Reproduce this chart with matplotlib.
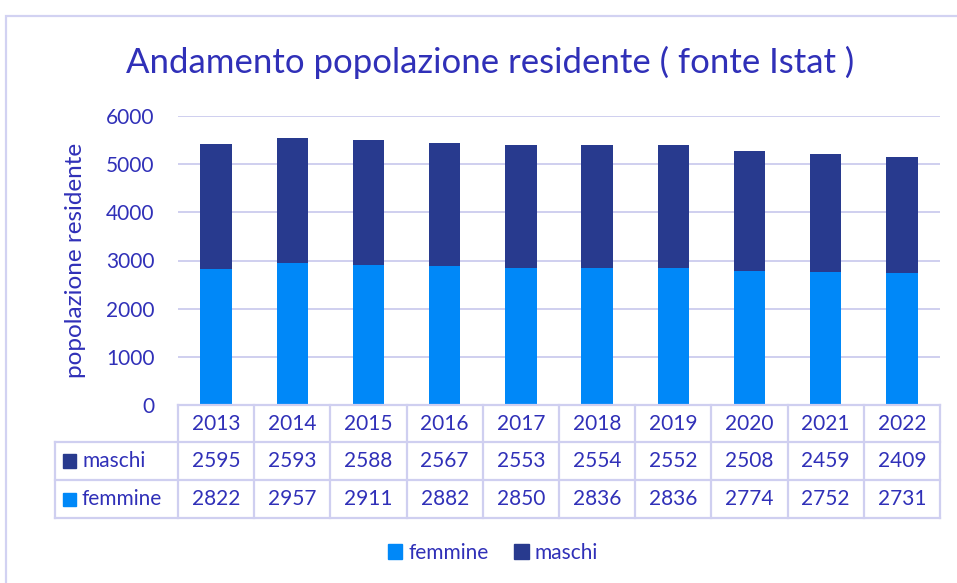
import matplotlib
matplotlib.use("Agg")
import matplotlib.pyplot as plt
from matplotlib.patches import Rectangle, Patch
from matplotlib.lines import Line2D

years = ["2013", "2014", "2015", "2016", "2017", "2018", "2019", "2020", "2021", "2022"]
maschi = [2595, 2593, 2588, 2567, 2553, 2554, 2552, 2508, 2459, 2409]
femmine = [2822, 2957, 2911, 2882, 2850, 2836, 2836, 2774, 2752, 2731]

TXT = "#3030b8"
C_F = "#0088f8"
C_M = "#283a8e"
GRID = "#ccccee"
FONT = "Lato"

W, H = 957, 583
fig = plt.figure(figsize=(W / 100, H / 100), dpi=100)
plt.rcParams["font.family"] = [FONT, "DejaVu Sans"]

def fx(px):
    return px / W

def fy(py):
    return 1 - py / H

# outer frame
fig.patches.append(Rectangle((fx(6), fy(590)), fx(1000), fy(16) - fy(590),
                             transform=fig.transFigure, fill=False,
                             edgecolor="#d2d2f2", lw=1.6))

L, R, T, B = 178, 940, 116, 405
ax = fig.add_axes([fx(L), fy(B), fx(R - L), fy(T) - fy(B)])
x = list(range(len(years)))
ax.bar(x, femmine, width=0.41, color=C_F, zorder=3, label="femmine")
ax.bar(x, maschi, width=0.41, bottom=femmine, color=C_M, zorder=3, label="maschi")
ax.set_xlim(-0.5, len(years) - 0.5)
ax.set_ylim(0, 6000)
ax.set_yticks(range(0, 6001, 1000))
ax.set_xticks([])
ax.grid(axis="y", color=GRID, lw=1.3, zorder=0)
for s in ax.spines.values():
    s.set_visible(False)
ax.tick_params(axis="y", length=0, labelsize=15, labelcolor=TXT, pad=17)
ax.set_ylabel("popolazione residente", fontsize=17.5, color=TXT, labelpad=14)

fig.text(fx(490), fy(62), "Andamento popolazione residente ( fonte Istat )",
         ha="center", va="center", fontsize=25, color=TXT)

# data table
colw = (R - L) / len(years)
lc = "#cfcff0"
tlw = 1.6
def hline(y, x0, x1):
    fig.lines.append(Line2D([fx(x0), fx(x1)], [fy(y), fy(y)], transform=fig.transFigure, color=lc, lw=tlw))
def vline(xp, y0, y1):
    fig.lines.append(Line2D([fx(xp), fx(xp)], [fy(y0), fy(y1)], transform=fig.transFigure, color=lc, lw=tlw))

hline(405, L, R)
for y in [442, 480, 518]:
    hline(y, 55, R)
for i in range(len(years) + 1):
    vline(L + i * colw, 405, 518)
vline(55, 442, 518)

for i, yr in enumerate(years):
    cx = L + (i + 0.5) * colw
    fig.text(fx(cx), fy(424), yr, ha="center", va="center", fontsize=15, color=TXT)
    fig.text(fx(cx), fy(461), str(maschi[i]), ha="center", va="center", fontsize=15, color=TXT)
    fig.text(fx(cx), fy(499), str(femmine[i]), ha="center", va="center", fontsize=15, color=TXT)

for yc, name, col in [(461, "maschi", C_M), (499, "femmine", C_F)]:
    fig.patches.append(Rectangle((fx(63), fy(yc + 6.5)), fx(13), fy(yc - 6.5) - fy(yc + 6.5),
                                 transform=fig.transFigure, color=col))
    fig.text(fx(82), fy(yc), name, ha="left", va="center", fontsize=15, color=TXT)

# legend
handles = [Patch(color=C_F), Patch(color=C_M)]
leg = fig.legend(handles, ["femmine", "maschi"], loc="center", bbox_to_anchor=(fx(493), fy(553)),
                 ncol=2, frameon=False, fontsize=15, handlelength=0.7, handleheight=0.7,
                 handletextpad=0.3, columnspacing=1.2)
for t in leg.get_texts():
    t.set_color(TXT)

fig.savefig("out.png", dpi=100, facecolor="white")
